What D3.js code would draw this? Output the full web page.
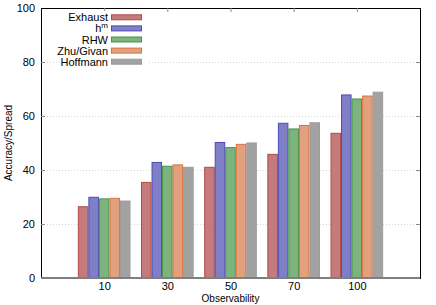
<!DOCTYPE html>
<html>
<head>
<meta charset="utf-8">
<script src="https://cdn.jsdelivr.net/npm/d3@7"></script>
<style>
body { margin: 0; background: #fff; }
text { font-family: "Liberation Sans", Arial, sans-serif; fill: #000; }
</style>
</head>
<body>
<script>
var width = 436,
    height = 305;

var categories = ["10", "30", "50", "70", "100"];
var seriesNames = ["Exhaust", "h^m", "RHW", "Zhu/Givan", "Hoffmann"];
var exhaust  = [26.4, 35.4, 41.0, 45.8, 53.6];
var hm       = [29.9, 42.8, 50.2, 57.3, 67.8];
var rhw      = [29.3, 41.4, 48.3, 55.2, 66.3];
var zhuGivan = [29.5, 41.9, 49.5, 56.5, 67.4];
var hoffmann = [28.5, 41.0, 50.0, 57.5, 68.8];
var yTicks = [0, 20, 40, 60, 80, 100];

var series = [exhaust, hm, rhw, zhuGivan, hoffmann];
var fills   = ["#c57b7b", "#7f7fc8", "#7db47d", "#e2a07f", "#a2a2a2"];
var strokes = ["#b14a4a", "#4b4bb4", "#479447", "#d9743f", "#9a9a9a"];

// plot box (note: "top" is reserved on window, so use pTop etc.)
var pLeft = 41, pRight = 420, pTop = 8, pBottom = 278;

var xScale = d3.scaleLinear()
    .domain([-1, 5])
    .range([pLeft, pRight]);

var yScale = d3.scaleLinear()
    .domain([0, 100])
    .range([pBottom, pTop]);

var bw = (xScale(1) - xScale(0)) / 6;

var svg = d3.select("body")
    .append("svg")
    .attr("width", width)
    .attr("height", height);

// grid
svg.selectAll("line.grid")
    .data(yTicks.filter(function(d) { return d > 0 && d < 100; }))
    .enter()
    .append("line")
    .attr("x1", pLeft)
    .attr("x2", pRight)
    .attr("y1", function(d) { return yScale(d) + 0.5; })
    .attr("y2", function(d) { return yScale(d) + 0.5; })
    .attr("stroke", "#bdbdbd")
    .attr("stroke-width", 0.6)
    .attr("stroke-dasharray", "1,2");

// bars
series.forEach(function(vals, j) {
    svg.selectAll("rect.s" + j)
        .data(vals)
        .enter()
        .append("rect")
        .attr("x", function(d, i) { return xScale(i) + (j - 2.5) * bw + 0.5; })
        .attr("y", function(d) { return yScale(d); })
        .attr("width", bw - 1)
        .attr("height", function(d) { return pBottom - yScale(d); })
        .attr("fill", fills[j])
        .attr("stroke", strokes[j])
        .attr("stroke-width", 1);
});

// border
svg.append("rect")
    .attr("x", pLeft + 0.5)
    .attr("y", pTop + 0.5)
    .attr("width", pRight - pLeft)
    .attr("height", pBottom - pTop)
    .attr("fill", "none")
    .attr("stroke", "#000")
    .attr("stroke-width", 1);

// baseline
svg.append("line")
    .attr("x1", pLeft)
    .attr("x2", pRight)
    .attr("y1", pBottom)
    .attr("y2", pBottom)
    .attr("stroke", "#7f7f7f")
    .attr("stroke-width", 2);

// y ticks
var yAxis = d3.axisLeft(yScale).tickValues(yTicks).tickSize(0).tickPadding(6);
var gy = svg.append("g").attr("transform", "translate(" + pLeft + ",0)").call(yAxis);
gy.select(".domain").remove();
gy.selectAll("text").style("font-size", "11px").attr("fill", "#000");

svg.selectAll("line.ytl")
    .data(yTicks.slice(1, -1))
    .enter()
    .append("line")
    .attr("x1", pLeft).attr("x2", pLeft + 4)
    .attr("y1", function(d) { return yScale(d) + 0.5; })
    .attr("y2", function(d) { return yScale(d) + 0.5; })
    .attr("stroke", "#888");
svg.selectAll("line.ytr")
    .data(yTicks.slice(1, -1))
    .enter()
    .append("line")
    .attr("x1", pRight - 4).attr("x2", pRight)
    .attr("y1", function(d) { return yScale(d) + 0.5; })
    .attr("y2", function(d) { return yScale(d) + 0.5; })
    .attr("stroke", "#888");

// x ticks
var xAxis = d3.axisBottom(xScale)
    .tickValues(d3.range(categories.length))
    .tickFormat(function(d) { return categories[d]; })
    .tickSize(0).tickPadding(4);
var gx = svg.append("g").attr("transform", "translate(0," + pBottom + ")").call(xAxis);
gx.select(".domain").remove();
gx.selectAll("text").style("font-size", "11px").attr("fill", "#000");

svg.selectAll("line.xtt")
    .data(d3.range(categories.length))
    .enter()
    .append("line")
    .attr("x1", function(d) { return xScale(d) + 0.5; })
    .attr("x2", function(d) { return xScale(d) + 0.5; })
    .attr("y1", pTop).attr("y2", pTop + 4)
    .attr("stroke", "#888");

// axis labels
svg.append("text")
    .attr("x", (pLeft + pRight) / 2)
    .attr("y", 302)
    .attr("text-anchor", "middle")
    .style("font-size", "10px")
    .text("Observability");

svg.append("text")
    .attr("transform", "translate(12," + (pTop + pBottom) / 2 + ") rotate(-90)")
    .attr("text-anchor", "middle")
    .style("font-size", "10px")
    .text("Accuracy/Spread");

// legend
var lg = svg.append("g");
lg.append("rect")
    .attr("x", 60).attr("y", 11)
    .attr("width", 87).attr("height", 56)
    .attr("fill", "#fff");

seriesNames.forEach(function(name, j) {
    var cy = 17.3 + j * 11.1;
    lg.append("rect")
        .attr("x", 111.5).attr("y", cy - 2.5)
        .attr("width", 30).attr("height", 5)
        .attr("fill", fills[j])
        .attr("stroke", strokes[j])
        .attr("stroke-width", 1);
    var t = lg.append("text")
        .attr("x", 108)
        .attr("y", cy + 4)
        .attr("text-anchor", "end")
        .style("font-size", "11px");
    if (name === "h^m") {
        t.append("tspan").text("h");
        t.append("tspan").attr("dy", -4).style("font-size", "8px").text("m");
    } else {
        t.text(name);
    }
});
</script>
</body>
</html>
